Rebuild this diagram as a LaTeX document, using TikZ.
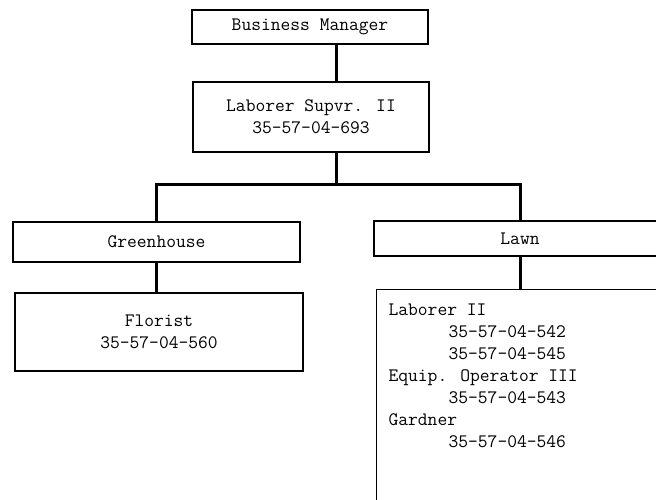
\documentclass[tikz,border=0pt]{standalone}
\usepackage{fontspec}
\usepackage{tikz}

\tikzset{
  box/.style={draw, line width=1.2pt, inner sep=0pt, align=center,
    font=\ttfamily\addfontfeatures{FakeBold=0.6}\fontsize{19}{22}\selectfont},
  link/.style={line width=3pt}
}
\newcommand{\jobno}[1]{\hspace*{60pt}#1}

\begin{document}
\begin{tikzpicture}[x=1pt,y=1pt]
\useasboundingbox (0,0) rectangle (656,500);
\node[box, minimum width=236pt, minimum height=34pt] (bm) at (310,473) {Business Manager};
\node[box, minimum width=236pt, minimum height=70pt] (sup) at (311,383) {Laborer Supvr. II\\35-57-04-693};
\node[box, minimum width=287pt, minimum height=40pt] (green) at (156.5,258) {Greenhouse};
\node[box, minimum width=288pt, minimum height=78pt] (florist) at (159,168) {Florist\\35-57-04-560};
\node[box, minimum width=292pt, minimum height=35pt] (lawn) at (520,261.5) {Lawn};
\node[box, anchor=north west, align=left, inner xsep=12pt, inner ysep=14pt] (crew) at (376,211)
  {\parbox[t][205pt][t]{266pt}{Laborer II\\
   \jobno{35-57-04-542}\\
   \jobno{35-57-04-545}\\
   Equip. Operator III\\
   \jobno{35-57-04-543}\\
   Gardner\\
   \jobno{35-57-04-546}}};

% trunk lines
\coordinate (trunk) at (336,0);
\coordinate (bar) at (336,315);
\draw[link] (bm.south -| trunk) -- (sup.north -| trunk);
\draw[link] (sup.south -| trunk) -- (bar);
\draw[link] (green.north) |- (bar) -| (lawn.north);
\draw[link] (green.south) -- (green.south |- florist.north);
\draw[link] (lawn.south) -- (lawn.south |- crew.north);
\end{tikzpicture}
\end{document}
